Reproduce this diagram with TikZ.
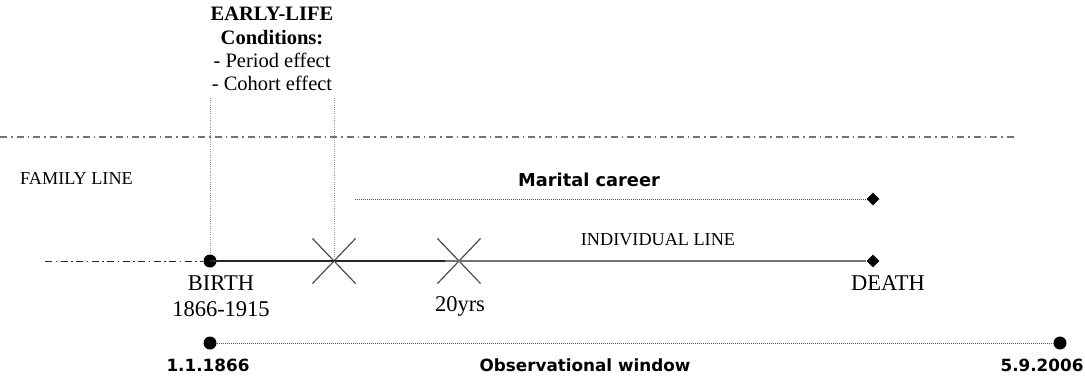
\documentclass[tikz,border=0pt]{standalone}
\usepackage{fontspec}
\setmainfont{Liberation Serif}
\newfontfamily\sansfam{DejaVu Sans}
\usetikzlibrary{shapes.geometric,shapes.misc}
\tikzset{
  txt/.style={inner sep=0pt, anchor=base, text=black},
  serifbig/.style={txt, font=\fontsize{22.5}{27}\selectfont},
  serifmid/.style={txt, font=\fontsize{20.5}{24}\selectfont},
  serifsmall/.style={txt, font=\fontsize{18.2}{22}\selectfont},
  sansbig/.style={txt, font=\sansfam\bfseries\fontsize{16.8}{20}\selectfont},
  dotnode/.style={circle, fill=black, inner sep=0pt, minimum size=13pt},
  diamnode/.style={diamond, fill=black, inner sep=0pt, minimum size=13pt},
  crossnode/.style={cross out, draw=black!70, line width=1.2pt, inner sep=0pt, minimum width=42pt, minimum height=44pt},
  topline/.style={draw=black!55, line width=1.5pt, dash pattern=on 7pt off 4pt on 1.5pt off 4pt},
  leftline/.style={draw=black!85, line width=1pt, dash pattern=on 7pt off 3.5pt on 1.5pt off 3.5pt},
  guide/.style={draw=black!40, line width=0.8pt, dash pattern=on 1pt off 1.2pt},
  dotline/.style={draw=black!65, line width=1pt, dash pattern=on 1pt off 1pt},
}
\begin{document}
\begin{tikzpicture}[x=1pt,y=-1pt]
\useasboundingbox (0,0) rectangle (1085,376);

% top text
\node[serifmid, font=\fontsize{20.5}{24}\selectfont\bfseries] (early) at (272,20) {EARLY-LIFE};
\node[serifmid, font=\fontsize{20.5}{24}\selectfont\bfseries] (cond) at (272,44) {Conditions:};
\node[serifmid] (period) at (272,67) {- Period effect};
\node[serifmid] (cohort) at (272,90.5) {- Cohort effect};

% top dash-dot line
\coordinate (tl1) at (0,137);
\coordinate (tl2) at (1017,137);
\draw[topline] (tl1) -- (tl2);

\node[serifsmall, anchor=base west] (family) at (20,184) {FAMILY LINE};

% marital career
\node[sansbig, font=\sansfam\bfseries\fontsize{17.8}{21}\selectfont] (marital) at (589,186.7) {Marital career};
\coordinate (m1) at (355,199);
\node[diamnode] (mdiam) at (873,199) {};
\draw[dotline] (m1) -- (mdiam.west);

\node[serifsmall] (indiv) at (658,245.7) {INDIVIDUAL LINE};

% individual line
\node[dotnode] (birth) at (210,261) {};
\node[crossnode] (x1) at (334,261) {};
\node[crossnode] (x2) at (459,261) {};
\node[diamnode] (death) at (873,261) {};
\coordinate (left) at (45,261);
\coordinate (mid) at (445,261);
\draw[leftline] (left) -- (birth.west);
\draw[draw=black!85, line width=2.2pt] (birth.center) -- (mid);
\draw[draw=black!55, line width=2.6pt] (mid) -- (death.west);

% guide lines
\coordinate (g1) at (210,98);
\coordinate (g2) at (334,98);
\draw[guide] (g1) -- (birth.north);
\draw[guide] (g2) -- (x1.center);

\node[serifbig] (birthlbl) at (221,290) {BIRTH};
\node[serifbig] (years) at (221,316.7) {1866-1915};
\node[serifbig] (twenty) at (460,311.7) {20yrs};
\node[serifbig] (deathlbl) at (888,290) {DEATH};

% observational window
\node[dotnode] (o1) at (210,343) {};
\node[dotnode] (o2) at (1060,343) {};
\draw[dotline] (o1.east) -- (o2.west);
\node[sansbig] (d1) at (208,371.7) {1.1.1866};
\node[sansbig] (obs) at (585,371.7) {Observational window};
\node[sansbig] (d2) at (1042,371.7) {5.9.2006};
\end{tikzpicture}
\end{document}
